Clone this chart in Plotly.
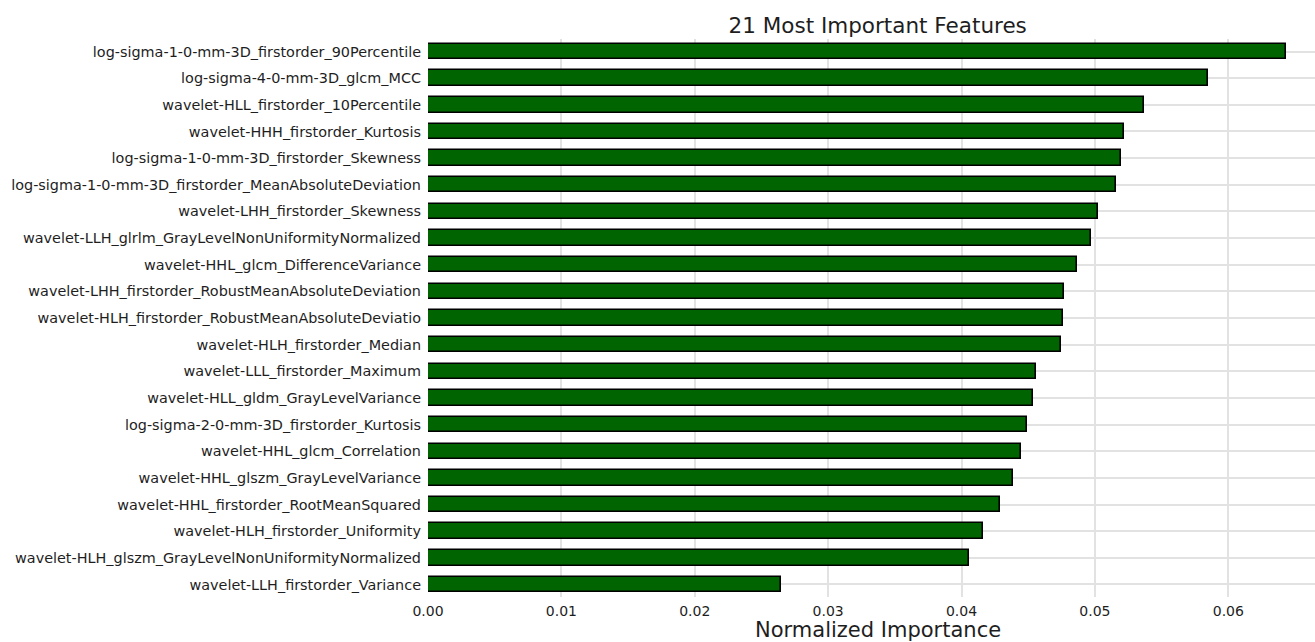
import plotly.graph_objects as go

features = [
    "log-sigma-1-0-mm-3D_firstorder_90Percentile",
    "log-sigma-4-0-mm-3D_glcm_MCC",
    "wavelet-HLL_firstorder_10Percentile",
    "wavelet-HHH_firstorder_Kurtosis",
    "log-sigma-1-0-mm-3D_firstorder_Skewness",
    "log-sigma-1-0-mm-3D_firstorder_MeanAbsoluteDeviation",
    "wavelet-LHH_firstorder_Skewness",
    "wavelet-LLH_glrlm_GrayLevelNonUniformityNormalized",
    "wavelet-HHL_glcm_DifferenceVariance",
    "wavelet-LHH_firstorder_RobustMeanAbsoluteDeviation",
    "wavelet-HLH_firstorder_RobustMeanAbsoluteDeviatio",
    "wavelet-HLH_firstorder_Median",
    "wavelet-LLL_firstorder_Maximum",
    "wavelet-HLL_gldm_GrayLevelVariance",
    "log-sigma-2-0-mm-3D_firstorder_Kurtosis",
    "wavelet-HHL_glcm_Correlation",
    "wavelet-HHL_glszm_GrayLevelVariance",
    "wavelet-HHL_firstorder_RootMeanSquared",
    "wavelet-HLH_firstorder_Uniformity",
    "wavelet-HLH_glszm_GrayLevelNonUniformityNormalized",
    "wavelet-LLH_firstorder_Variance",
]
importance = [
    0.06434, 0.05849, 0.05371, 0.05219, 0.05194, 0.05159, 0.05021,
    0.04969, 0.04869, 0.04771, 0.04764, 0.04744, 0.04556, 0.04536,
    0.04491, 0.04449, 0.04384, 0.04286, 0.04158, 0.04053, 0.02646,
]
x_ticks = [0.0, 0.01, 0.02, 0.03, 0.04, 0.05, 0.06]
x_tick_text = ["0.00", "0.01", "0.02", "0.03", "0.04", "0.05", "0.06"]

fig = go.Figure(go.Bar(
    x=importance,
    y=features,
    orientation="h",
    width=0.58,
    marker=dict(color="#006400", line=dict(color="#000000", width=1.6)),
))

font_family = "DejaVu Sans"
fig.update_layout(
    width=1315,
    height=642,
    margin=dict(l=428, r=0, t=39, b=45),
    paper_bgcolor="white",
    plot_bgcolor="white",
    font=dict(family=font_family, size=14, color="#1e1e1e"),
    title=dict(
        text="21 Most Important Features",
        x=0.507, xref="paper", xanchor="center",
        y=1 - 25 / 642, yref="container", yanchor="middle",
        font=dict(size=21.5, color="#1e1e1e"),
    ),
    showlegend=False,
    bargap=0,
)
fig.add_annotation(
    text="Normalized Importance",
    x=0.507, xref="paper", xanchor="center",
    y=0, yref="paper", yanchor="top", yshift=-19,
    showarrow=False,
    font=dict(size=21, color="#1e1e1e"),
)
fig.update_xaxes(
    range=[0, 0.0665],
    tickvals=x_ticks,
    ticktext=x_tick_text,
    showgrid=True,
    gridcolor="#e2e2e2",
    gridwidth=1.5,
    zeroline=False,
    showline=False,
    ticks="",
    ticklabelstandoff=4,
    tickfont=dict(size=14),
)
fig.update_yaxes(
    type="category",
    categoryorder="array",
    categoryarray=features,
    range=[20.47, -0.47],
    showgrid=True,
    gridcolor="#e2e2e2",
    gridwidth=1.5,
    zeroline=False,
    showline=False,
    ticks="",
    ticklabelstandoff=6,
    tickfont=dict(size=14.4),
)

fig.write_html("out.html")
